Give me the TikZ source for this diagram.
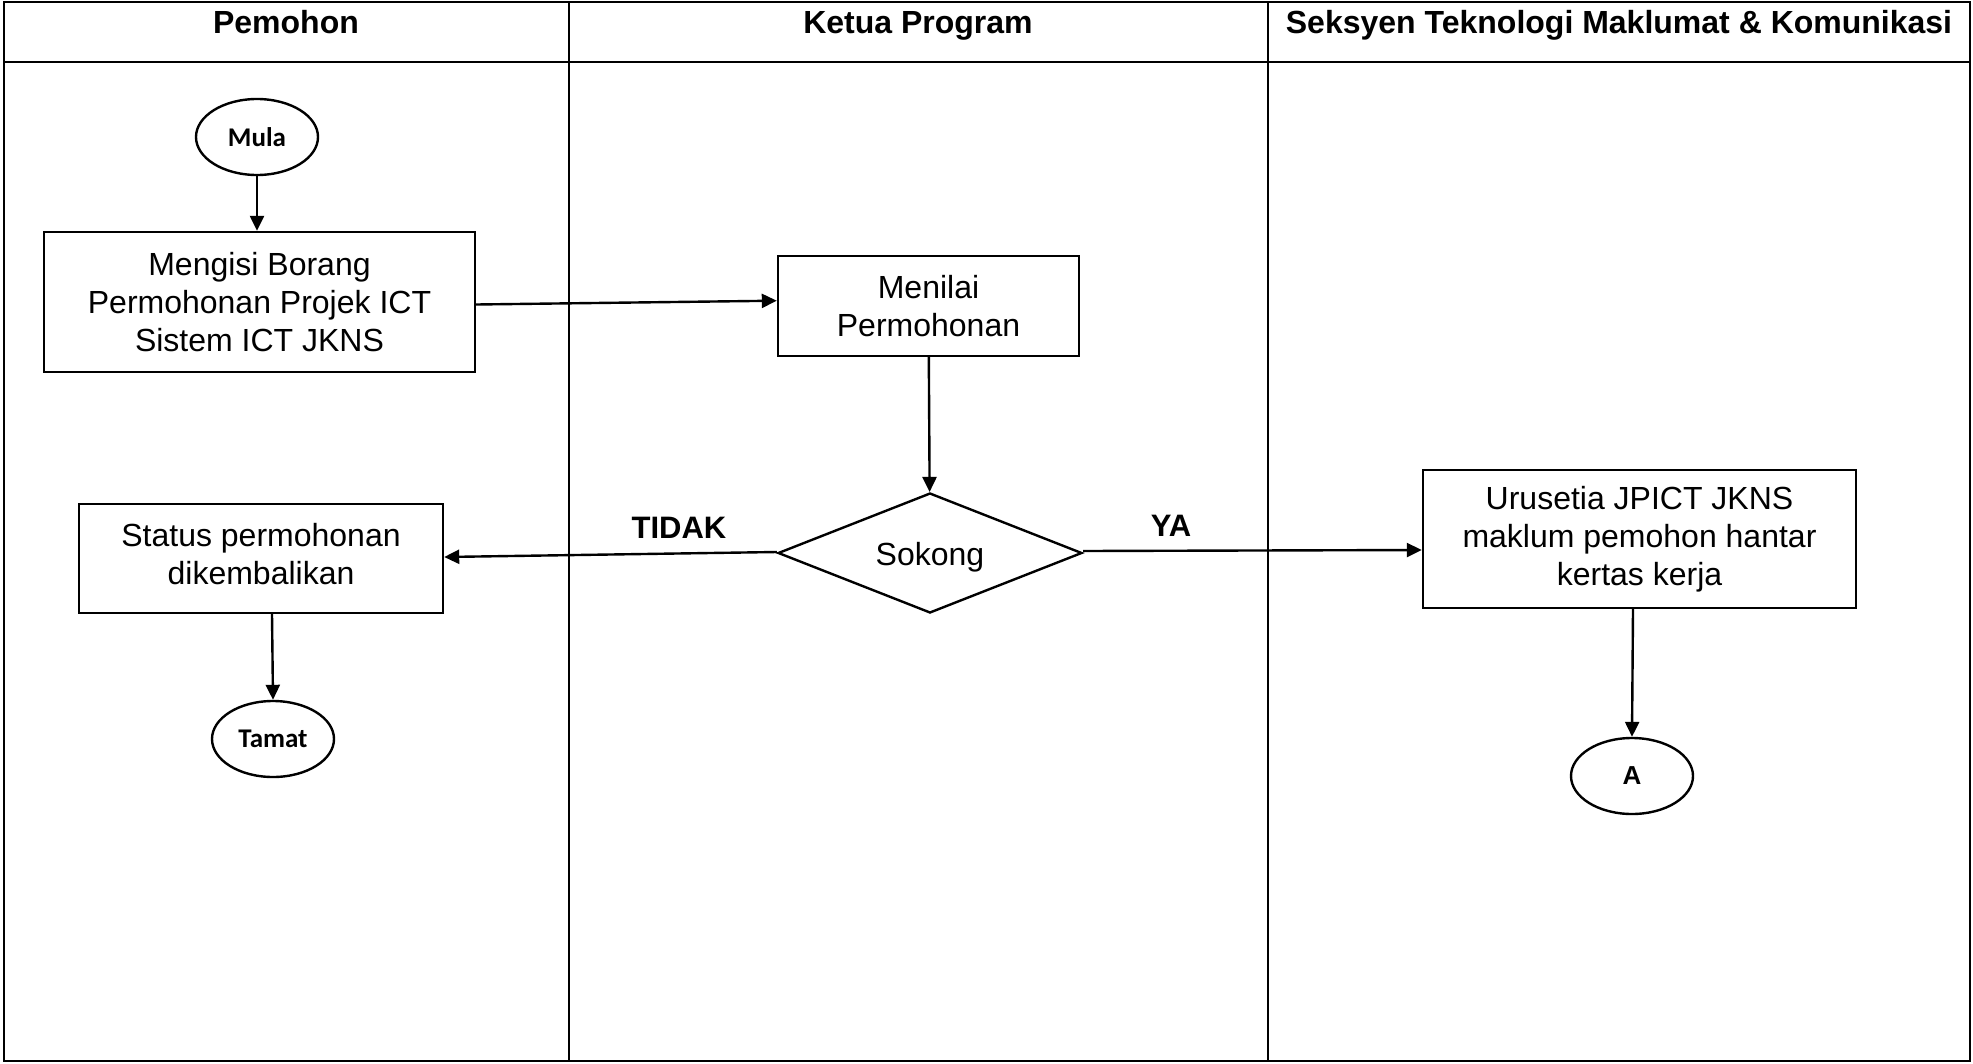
\documentclass[tikz,border=0pt]{standalone}
\usepackage{fontspec}
\setmainfont{Liberation Sans}
\newfontfamily\calib{Carlito}
\usetikzlibrary{arrows.meta,shapes.geometric}
\begin{document}
\begin{tikzpicture}[x=1pt,y=-1pt,
  frame/.style={line width=2.6pt},
  box/.style={draw,line width=2.4pt,rectangle,align=center,inner sep=0pt,font=\fontsize{32}{38}\selectfont},
  term/.style={draw,line width=2.4pt,ellipse,inner sep=0pt,minimum width=122,minimum height=76},
  decis/.style={draw,line width=2.4pt,diamond,aspect=2.5,inner sep=0pt,minimum width=304,minimum height=120,font=\fontsize{32}{38}\selectfont},
  arr/.style={line width=2.4pt,-{Triangle[length=15pt,width=14pt]}},
  head/.style={anchor=base,font=\fontsize{32}{36}\bfseries\selectfont},
  lbl/.style={font=\fontsize{31}{36}\bfseries\selectfont}]
\useasboundingbox (0,0) rectangle (1973,1063);
% frame
\draw[frame] (4,2) rectangle (1970,1061);
\draw[frame] (4,62) -- (1970,62);
\draw[frame] (569,2) -- (569,1061);
\draw[frame] (1268,2) -- (1268,1061);
\node[head] (h1) at (286,33) {Pemohon};
\node[head] (h2) at (918,33) {Ketua Program};
\node[head] (h3) at (1619,33) {Seksyen Teknologi Maklumat \& Komunikasi};
% nodes
\node[term,font=\fontsize{27}{30}\calib\bfseries\selectfont] (mula) at (257,137) {Mula};
\node[box,minimum width=431,minimum height=140] (mengisi) at (259.5,302) {Mengisi Borang\\Permohonan Projek ICT\\Sistem ICT JKNS};
\node[box,minimum width=301,minimum height=100] (menilai) at (928.5,306) {Menilai\\Permohonan};
\node[decis,text height=31pt] (sokong) at (930,553) {Sokong};
\node[box,minimum width=364,minimum height=109,text depth=10pt] (status) at (261,558.5) {Status permohonan\\dikembalikan};
\node[term,font=\fontsize{27}{30}\calib\bfseries\selectfont] (tamat) at (273,739) {Tamat};
\node[box,minimum width=433,minimum height=138] (urusetia) at (1639.5,539) {Urusetia JPICT JKNS\\maklum pemohon hantar\\kertas kerja};
\node[term,font=\fontsize{26}{30}\bfseries\selectfont] (a) at (1632,776) {A};
\node[lbl] (tidak) at (679,528) {TIDAK};
\node[lbl] (ya) at (1171,526) {YA};
% connectors
\draw[arr] (mula) -- (mula |- mengisi.north);
\draw[arr] ([yshift=-2.5pt]mengisi.east) -- ([yshift=5.3pt]menilai.west);
\draw[arr] (menilai) -- (sokong);
\draw[arr] ([yshift=1pt]sokong.west) -- ([yshift=1.5pt]status.east);
\draw[arr] ([yshift=2pt]sokong.east) -- ([yshift=-11pt]urusetia.west);
\draw[arr] ([xshift=11pt]status.south) -- (tamat.north);
\draw[arr] ([xshift=-6.5pt]urusetia.south) -- (a.north);
\end{tikzpicture}
\end{document}
